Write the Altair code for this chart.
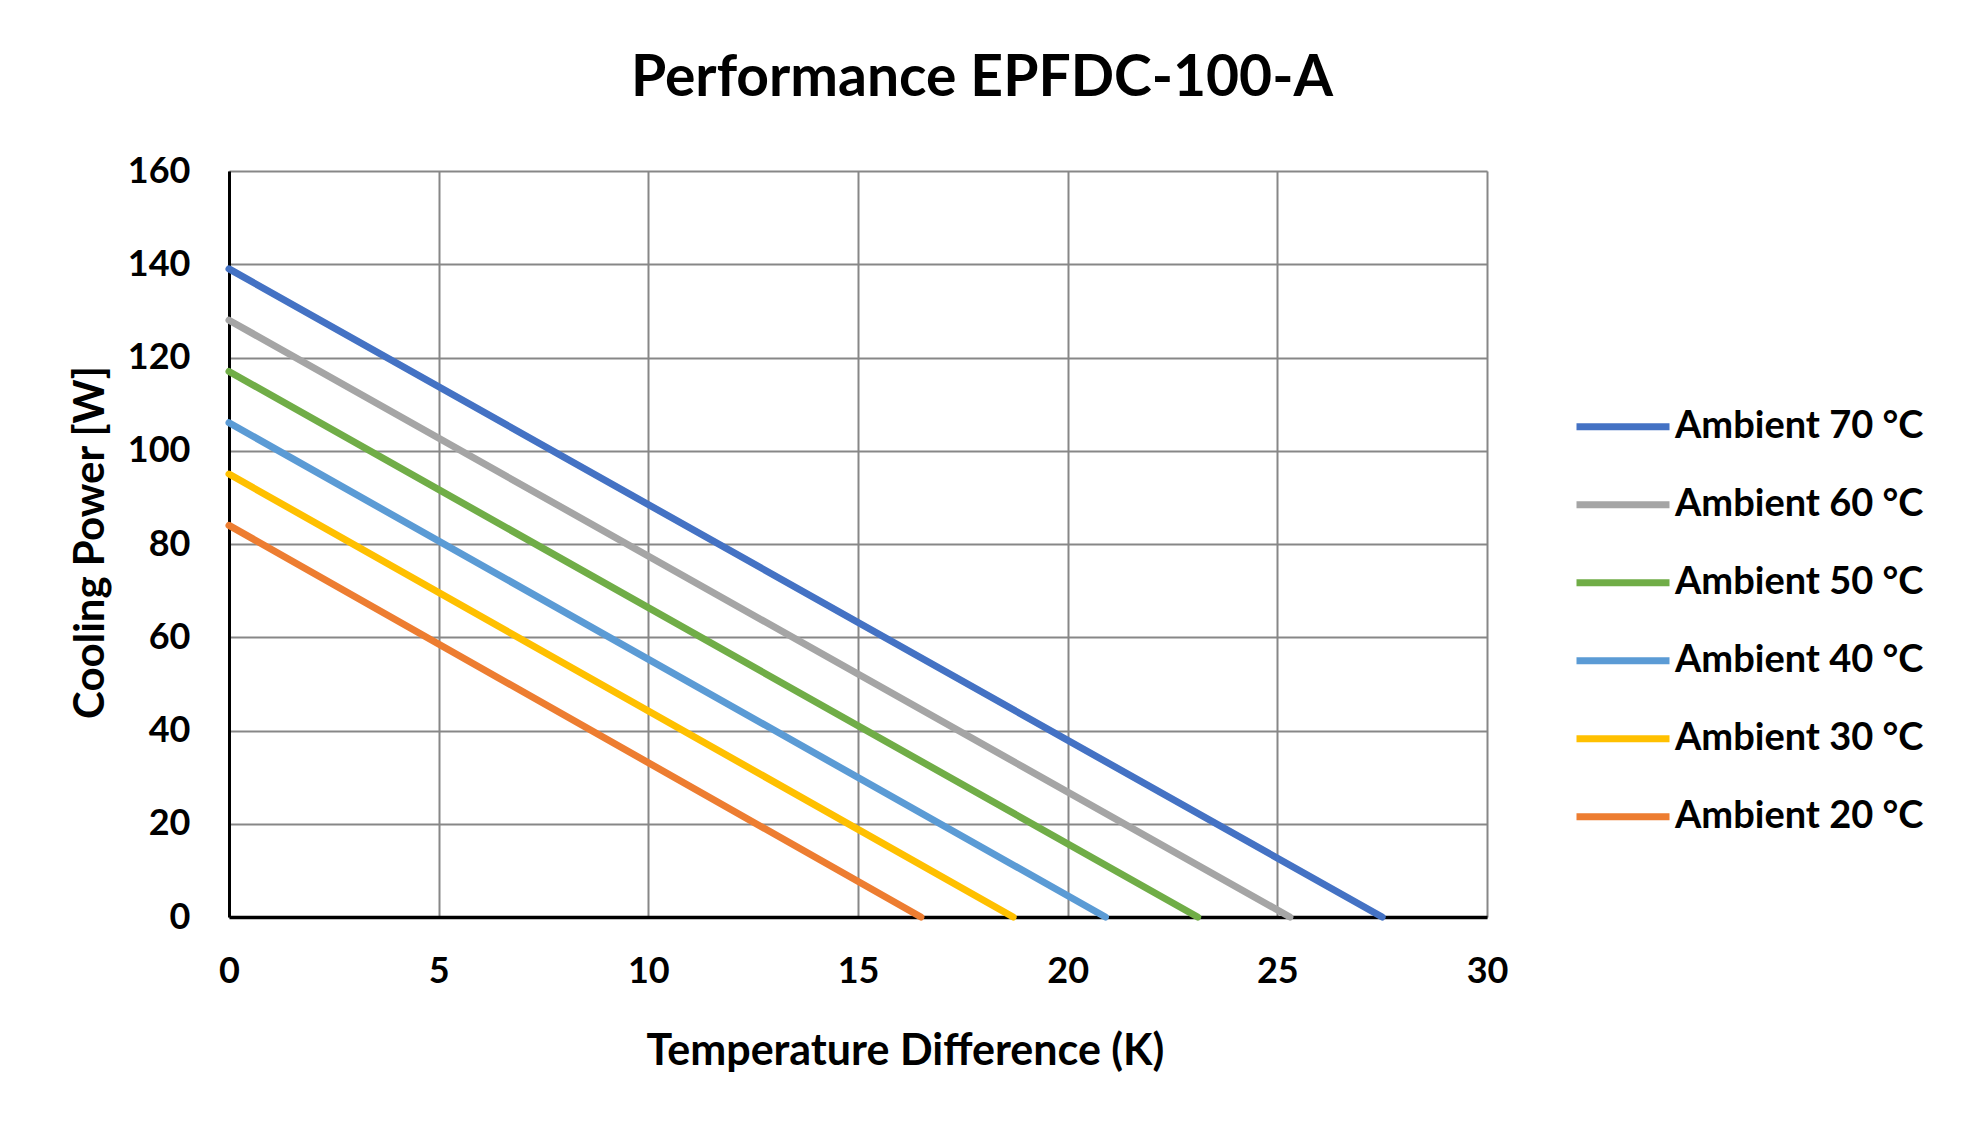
import altair as alt
import pandas as pd

# Data
series = ["Ambient 70 °C", "Ambient 60 °C", "Ambient 50 °C",
          "Ambient 40 °C", "Ambient 30 °C", "Ambient 20 °C"]
power_at_zero_dt = [139, 128, 117, 106, 95, 84]        # W at dT = 0
max_dt = [27.5, 25.3, 23.1, 20.9, 18.7, 16.5]          # K at 0 W
colors = ["#4472C4", "#A5A5A5", "#70AD47", "#5B9BD5", "#FFC000", "#ED7D31"]
x_ticks = [0, 5, 10, 15, 20, 25, 30]
y_ticks = [0, 20, 40, 60, 80, 100, 120, 140, 160]

rows = []
for s, p, d in zip(series, power_at_zero_dt, max_dt):
    rows.append({"series": s, "dT": 0.0, "Q": p})
    rows.append({"series": s, "dT": d, "Q": 0.0})
df = pd.DataFrame(rows)

FONT = "Lato"

chart = alt.Chart(df).mark_line(strokeWidth=7, strokeCap="round").encode(
    x=alt.X("dT:Q",
            scale=alt.Scale(domain=[0, 30], nice=False),
            axis=alt.Axis(values=x_ticks, title="Temperature Difference (K)",
                          grid=True, gridColor="#878787", gridWidth=2,
                          domainColor="#000000", domainWidth=3.5,
                          ticks=False, tickSize=0, labelFlush=False,
                          labelFont=FONT, labelFontSize=36, labelFontWeight="bold",
                          labelColor="#000000", labelPadding=37,
                          titleFont=FONT, titleFontSize=43, titleFontWeight="bold",
                          titleColor="#000000", titleX=676, titleY=147,
                          titleBaseline="alphabetic", titleAlign="center")),
    y=alt.Y("Q:Q",
            scale=alt.Scale(domain=[0, 160], nice=False),
            axis=alt.Axis(values=y_ticks, title="Cooling Power [W]",
                          grid=True, gridColor="#878787", gridWidth=2,
                          domainColor="#000000", domainWidth=3,
                          ticks=False, tickSize=0, labelFlush=False,
                          labelFont=FONT, labelFontSize=36, labelFontWeight="bold",
                          labelColor="#000000", labelPadding=39,
                          titleFont=FONT, titleFontSize=42, titleFontWeight="bold",
                          titleColor="#000000", titleAngle=270, titleX=-126, titleY=371,
                          titleBaseline="alphabetic", titleAlign="center")),
    color=alt.Color("series:N",
                    scale=alt.Scale(domain=series, range=colors),
                    sort=series,
                    legend=alt.Legend(title=None, orient="none",
                                      legendX=1344, legendY=217,
                                      symbolType="stroke", symbolSize=8649,
                                      symbolStrokeWidth=7, clipHeight=77.4,
                                      rowPadding=0, padding=0, symbolOffset=0,
                                      labelOffset=2, labelLimit=500,
                                      labelFont=FONT, labelFontSize=38,
                                      labelFontWeight="bold", labelColor="#000000")),
).properties(
    width=1258, height=746,
    title=alt.TitleParams("Performance EPFDC-100-A", font=FONT, fontSize=57,
                          fontWeight="bold", color="#000000", anchor="middle",
                          baseline="alphabetic", offset=0, dx=124),
    padding={"left": 221, "top": 163, "right": 460, "bottom": 190},
    autosize=alt.AutoSizeParams(type="none"),
).configure_view(strokeWidth=0).configure(background="#FFFFFF")

chart.save("out.html", embed_options={"renderer": "svg", "actions": False})
